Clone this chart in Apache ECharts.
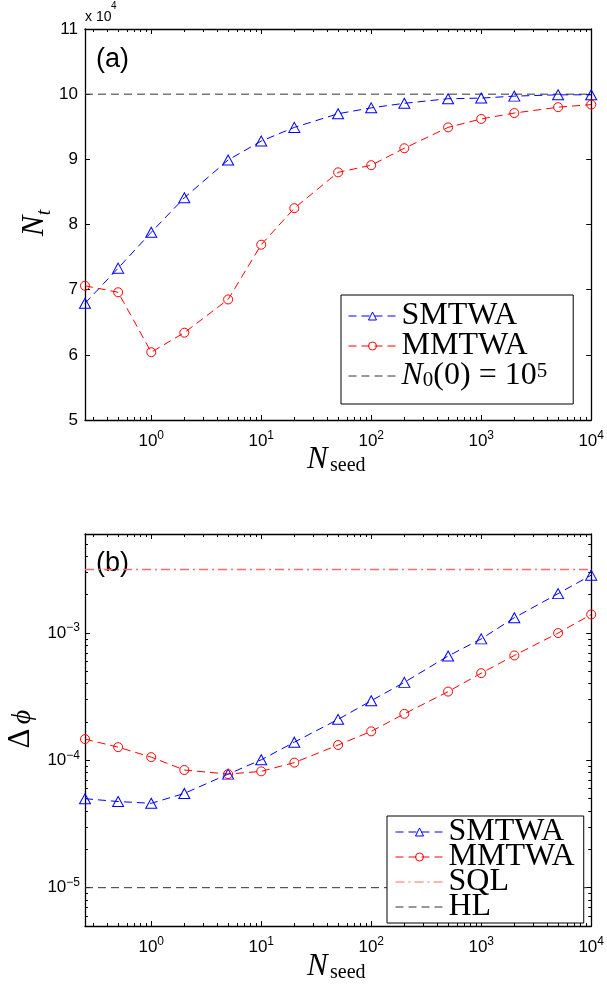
<!DOCTYPE html>
<html>
<head>
<meta charset="utf-8">
<script src="https://cdn.jsdelivr.net/npm/echarts@6/dist/echarts.min.js"></script>
<style>
html, body { margin: 0; padding: 0; background: #fff; }
#chart { width: 607px; height: 994px; }
</style>
</head>
<body>
<div id="chart"></div>
<script>
// seeds on the x axis (both panels)
const nSeed = [0.25, 0.5, 1, 2, 5, 10, 20, 50, 100, 200, 500, 1000, 2000, 5000, 10000];
// panel (a): N_t
const ntSMTWA = [67900, 73300, 78800, 84100, 89900, 92800, 94900, 97000, 97900, 98600, 99300, 99400, 99700, 99900, 99900];
const ntMMTWA = [70600, 69600, 60400, 63400, 68500, 76900, 82500, 88000, 89100, 91700, 94900, 96200, 97100, 98000, 98400];
const n0Level = 1e5;
// panel (b): delta phi
const dphiSMTWA = [5.0e-5, 4.75e-5, 4.6e-5, 5.5e-5, 7.8e-5, 1.01e-4, 1.39e-4, 2.1e-4, 2.94e-4, 4.1e-4, 6.6e-4, 9.0e-4, 1.32e-3, 2.04e-3, 2.85e-3];
const dphiMMTWA = [1.47e-4, 1.27e-4, 1.06e-4, 8.4e-5, 7.8e-5, 8.2e-5, 9.6e-5, 1.32e-4, 1.69e-4, 2.32e-4, 3.47e-4, 4.84e-4, 6.67e-4, 1.0e-3, 1.40e-3];
const sqlLevel = 3.16e-3;
const hlLevel = 1e-5;
// axes
const xMin = 0.25, xMax = 1e4;
const ntMin = 5e4, ntMax = 11e4, ntStep = 1e4;
const phiMin = 5e-6, phiMax = 6e-3;
const mantissas = [2, 3, 4, 5, 6, 7, 8, 9];

const SERIF = "'Liberation Serif', 'DejaVu Serif', serif";
const SANS = "'Liberation Sans', Arial, sans-serif";
const BLUE = '#0000ff', RED = '#ff0000';

function pairs(xs, ys) { return xs.map((x, i) => [x, ys[i]]); }

// minor ticks in log10 space, for the overlay value axes
function minorTicks(lo, hi) {
    const out = [];
    for (let e = Math.floor(Math.log10(lo)); e <= Math.ceil(Math.log10(hi)); e++) {
        mantissas.forEach(m => {
            const v = m * Math.pow(10, e);
            if (v > lo * 1.0001 && v < hi * 0.9999) out.push(Math.log10(v));
        });
    }
    return out;
}

function powLabel(v) {
    const l = Math.log10(v);
    const e = Math.round(l);
    if (Math.abs(l - e) > 1e-6) return '';
    return '{b|10}{s|' + String(e).replace('-', '\u2212') + '}';
}

const powRich = {
    b: { fontSize: 17, fontFamily: SANS, color: '#000', lineHeight: 22 },
    s: { fontSize: 12, fontFamily: SANS, color: '#000', lineHeight: 12, verticalAlign: 'top' }
};

const axisLine = { show: true, onZero: false, lineStyle: { color: '#000', width: 1.3 } };
const majorTick = { show: true, inside: true, length: 5, lineStyle: { color: '#000', width: 1 } };

function logX(grid, pos, labels) {
    return {
        type: 'log', gridIndex: grid, position: pos, min: xMin, max: xMax,
        axisLine: axisLine, axisTick: majorTick, splitLine: { show: false },
        axisLabel: labels ? { show: true, margin: 10, formatter: powLabel, rich: powRich } : { show: false }
    };
}
function minorAxis(grid, pos, lo, hi) {
    return {
        type: 'value', gridIndex: grid, position: pos, min: Math.log10(lo), max: Math.log10(hi),
        axisLine: { show: false, onZero: false }, splitLine: { show: false }, axisLabel: { show: false },
        axisTick: { show: true, inside: true, length: 3, lineStyle: { color: '#000', width: 1 },
            customValues: minorTicks(lo, hi) }
    };
}
function ntY(pos, labels) {
    return {
        type: 'value', gridIndex: 0, position: pos, min: ntMin, max: ntMax, interval: ntStep,
        axisLine: axisLine, axisTick: majorTick, splitLine: { show: false },
        axisLabel: labels ? { show: true, margin: 7, fontSize: 17, fontFamily: SANS, color: '#000',
            formatter: v => String(v / 1e4) } : { show: false }
    };
}
function phiY(pos, labels) {
    return {
        type: 'log', gridIndex: 1, position: pos, min: phiMin, max: phiMax,
        axisLine: axisLine, axisTick: majorTick, splitLine: { show: false },
        axisLabel: labels ? { show: true, margin: 5, formatter: powLabel, rich: powRich } : { show: false }
    };
}

function markSeries(name, xi, yi, data, color, symbol, size) {
    return {
        name: name, type: 'line', xAxisIndex: xi, yAxisIndex: yi, data: data,
        symbol: symbol, symbolSize: size, showAllSymbol: true, clip: false, z: 3,
        itemStyle: { color: 'rgba(255,255,255,0)', borderColor: color, borderWidth: 1 },
        lineStyle: { color: color, width: 1, type: [8, 5] }
    };
}
function levelSeries(name, xi, yi, level, color, type, width) {
    return {
        name: name, type: 'line', xAxisIndex: xi, yAxisIndex: yi,
        data: [[xMin, level], [xMax, level]], symbol: 'circle', showSymbol: false, clip: false, z: 2,
        itemStyle: { color: color },
        lineStyle: { color: color, width: width, type: type }
    };
}

const legendText = {
    fontFamily: SERIF, fontSize: 32, color: '#000',
    rich: {
        r: { fontFamily: SERIF, fontSize: 32, color: '#000' },
        i: { fontFamily: SERIF, fontSize: 32, fontStyle: 'italic', color: '#000' },
        sub: { fontFamily: SERIF, fontSize: 21, color: '#000', lineHeight: 18, verticalAlign: 'bottom' },
        sup: { fontFamily: SERIF, fontSize: 21, color: '#000', lineHeight: 18, verticalAlign: 'top' }
    }
};
function legendFormat(name) {
    if (name === 'N0') return '{i|N}{sub|0}{r|(0) = 10}{sup|5}';
    return name;
}

const chart = echarts.init(document.getElementById('chart'), null, { renderer: 'canvas' });
const option = {
    animation: false,
    backgroundColor: '#fff',
    grid: [
        { left: 85, top: 29, width: 507, height: 391 },
        { left: 85, top: 534, width: 507, height: 392 }
    ],
    xAxis: [
        logX(0, 'bottom', true), logX(0, 'top', false),
        minorAxis(0, 'bottom', xMin, xMax), minorAxis(0, 'top', xMin, xMax),
        logX(1, 'bottom', true), logX(1, 'top', false),
        minorAxis(1, 'bottom', xMin, xMax), minorAxis(1, 'top', xMin, xMax)
    ],
    yAxis: [
        ntY('left', true), ntY('right', false),
        phiY('left', true), phiY('right', false),
        minorAxis(1, 'left', phiMin, phiMax),
        minorAxis(1, 'right', phiMin, phiMax)
    ],
    legend: [
        {
            left: 341, top: 295, orient: 'vertical', selectedMode: false,
            padding: [5, 26, 12, 7], itemGap: -2, itemWidth: 48, itemHeight: 10,
            borderColor: '#000', borderWidth: 1, backgroundColor: '#fff',
            textStyle: Object.assign({ lineHeight: 30 }, legendText),
            itemStyle: { borderWidth: 1 }, lineStyle: { width: 1 },
            formatter: legendFormat,
            data: ['SMTWA', 'MMTWA', { name: 'N0', itemStyle: { opacity: 0 } }]
        },
        {
            left: 387, top: 816, orient: 'vertical', selectedMode: false,
            padding: [0, 9, 0, 8], itemGap: -7, itemWidth: 48, itemHeight: 10,
            borderColor: '#000', borderWidth: 1, backgroundColor: '#fff',
            textStyle: Object.assign({ lineHeight: 26 }, legendText),
            itemStyle: { borderWidth: 1 }, lineStyle: { width: 1 },
            formatter: legendFormat,
            data: ['SMTWA', 'MMTWA', { name: 'SQL', itemStyle: { opacity: 0 } }, { name: 'HL', itemStyle: { opacity: 0 } }]
        }
    ],
    series: [
        markSeries('SMTWA', 0, 0, pairs(nSeed, ntSMTWA), BLUE, 'triangle', [11, 10]),
        markSeries('MMTWA', 0, 0, pairs(nSeed, ntMMTWA), RED, 'circle', 9),
        levelSeries('N0', 0, 0, n0Level, '#333', [8, 5], 1),
        markSeries('SMTWA', 4, 2, pairs(nSeed, dphiSMTWA), BLUE, 'triangle', [11, 10]),
        markSeries('MMTWA', 4, 2, pairs(nSeed, dphiMMTWA), RED, 'circle', 9),
        levelSeries('SQL', 4, 2, sqlLevel, '#ff6a6a', [9, 4, 2, 4], 1.5),
        levelSeries('HL', 4, 2, hlLevel, '#333', [8, 5], 1)
    ],
    graphic: [
        { type: 'text', x: 96, y: 59.5, style: { text: '(a)', fontSize: 27, fontFamily: SANS, fill: '#000', align: 'left', verticalAlign: 'middle' } },
        { type: 'text', x: 96, y: 564, style: { text: '(b)', fontSize: 27, fontFamily: SANS, fill: '#000', align: 'left', verticalAlign: 'middle' } },
        { type: 'text', x: 85, y: 17, style: { text: 'x 10', fontSize: 14, fontFamily: SANS, fill: '#000', align: 'left', verticalAlign: 'middle' } },
        { type: 'text', x: 111, y: 6, style: { text: '4', fontSize: 10, fontFamily: SANS, fill: '#000', align: 'left', verticalAlign: 'middle' } },
        // y titles
        { type: 'text', x: 35, y: 226, rotation: Math.PI / 2, style: { text: 'N', fontSize: 31, fontStyle: 'italic', fontFamily: SERIF, fill: '#000', align: 'center', verticalAlign: 'middle' } },
        { type: 'text', x: 44.5, y: 212.5, rotation: Math.PI / 2, style: { text: 't', fontSize: 20, fontStyle: 'italic', fontFamily: SERIF, fill: '#000', align: 'center', verticalAlign: 'middle' } },
        { type: 'text', x: 21, y: 738.5, rotation: Math.PI / 2, style: { text: '\u0394', fontSize: 31, fontFamily: SERIF, fill: '#000', align: 'center', verticalAlign: 'middle' } },
        { type: 'text', x: 23, y: 717, rotation: Math.PI / 2, style: { text: '\u03d5', fontSize: 28, fontStyle: 'italic', fontFamily: SERIF, fill: '#000', align: 'center', verticalAlign: 'middle' } },
        // x titles
        { type: 'text', x: 307, y: 460, style: { text: 'N', fontSize: 31, fontStyle: 'italic', fontFamily: SERIF, fill: '#000', align: 'left', verticalAlign: 'middle' } },
        { type: 'text', x: 330, y: 466, style: { text: 'seed', fontSize: 20, fontFamily: SERIF, fill: '#000', align: 'left', verticalAlign: 'middle' } },
        { type: 'text', x: 307, y: 967, style: { text: 'N', fontSize: 31, fontStyle: 'italic', fontFamily: SERIF, fill: '#000', align: 'left', verticalAlign: 'middle' } },
        { type: 'text', x: 330, y: 973, style: { text: 'seed', fontSize: 20, fontFamily: SERIF, fill: '#000', align: 'left', verticalAlign: 'middle' } }
    ]
};
chart.setOption(option);
</script>
</body>
</html>
